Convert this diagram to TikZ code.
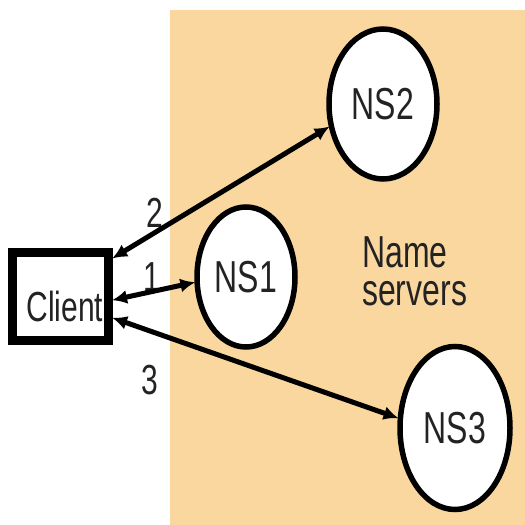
\documentclass[tikz,border=0pt]{standalone}
\usepackage{fontspec}
\setmainfont{Liberation Sans}
\usetikzlibrary{shapes.geometric,arrows.meta}
\definecolor{bgorange}{RGB}{250,215,158}
\definecolor{txtgray}{RGB}{35,35,35}
\newcommand{\stretchtxt}[1]{\scalebox{1}[1.4]{#1}}
\tikzset{
  server/.style={ellipse, draw=black, line width=5.5pt, fill=white, inner sep=0pt,
    text=txtgray, font=\fontsize{32}{28}\selectfont},
  clientbox/.style={rectangle, draw=black, line width=9pt, fill=white, inner sep=0pt},
  lbl/.style={text=txtgray, font=\fontsize{30}{28}\selectfont, inner sep=0pt},
  dbl/.style={line width=5pt, {Latex[length=15pt,width=14pt]}-{Latex[length=15pt,width=14pt]}, shorten <=-1pt, shorten >=-1pt}
}
\begin{document}
\begin{tikzpicture}[x=1pt,y=-1pt]
\useasboundingbox (0,0) rectangle (525,525);
\fill[white] (0,0) rectangle (525,525);
\fill[bgorange] (170,10) rectangle (525,525);
% nodes
\node[clientbox, minimum width=96pt, minimum height=88pt] (client) at (60.5,296.5) {};
\node[lbl] (clienttext) at (65,306) {\stretchtxt{Client}};
\node[server, minimum width=98pt, minimum height=140pt] (ns1) at (246,277) {\stretchtxt{NS1}};
\node[server, minimum width=108pt, minimum height=150pt] (ns2) at (383,104) {\stretchtxt{NS2}};
\node[server, minimum width=110pt, minimum height=163pt] (ns3) at (455,428) {\stretchtxt{NS3}};
\node[lbl, anchor=base west, font=\fontsize{32}{27.5}\selectfont] (names) at (362,267) {\stretchtxt{\begin{tabular}[t]{@{}l@{}}Name\\servers\end{tabular}}};
% labels
\node[lbl] (l2) at (155,213) {\stretchtxt{2}};
\node[lbl] (l1) at (152,277) {\stretchtxt{1}};
\node[lbl] (l3) at (150,380) {\stretchtxt{3}};
% connectors
\draw[dbl] ([yshift=38.5pt]client.east) -- (ns2.203);
\draw[dbl] ([yshift=-3.5pt]client.east) -- (ns1.186);
\draw[dbl] ([yshift=-21.5pt]client.east) -- (ns3.170);
\end{tikzpicture}
\end{document}
